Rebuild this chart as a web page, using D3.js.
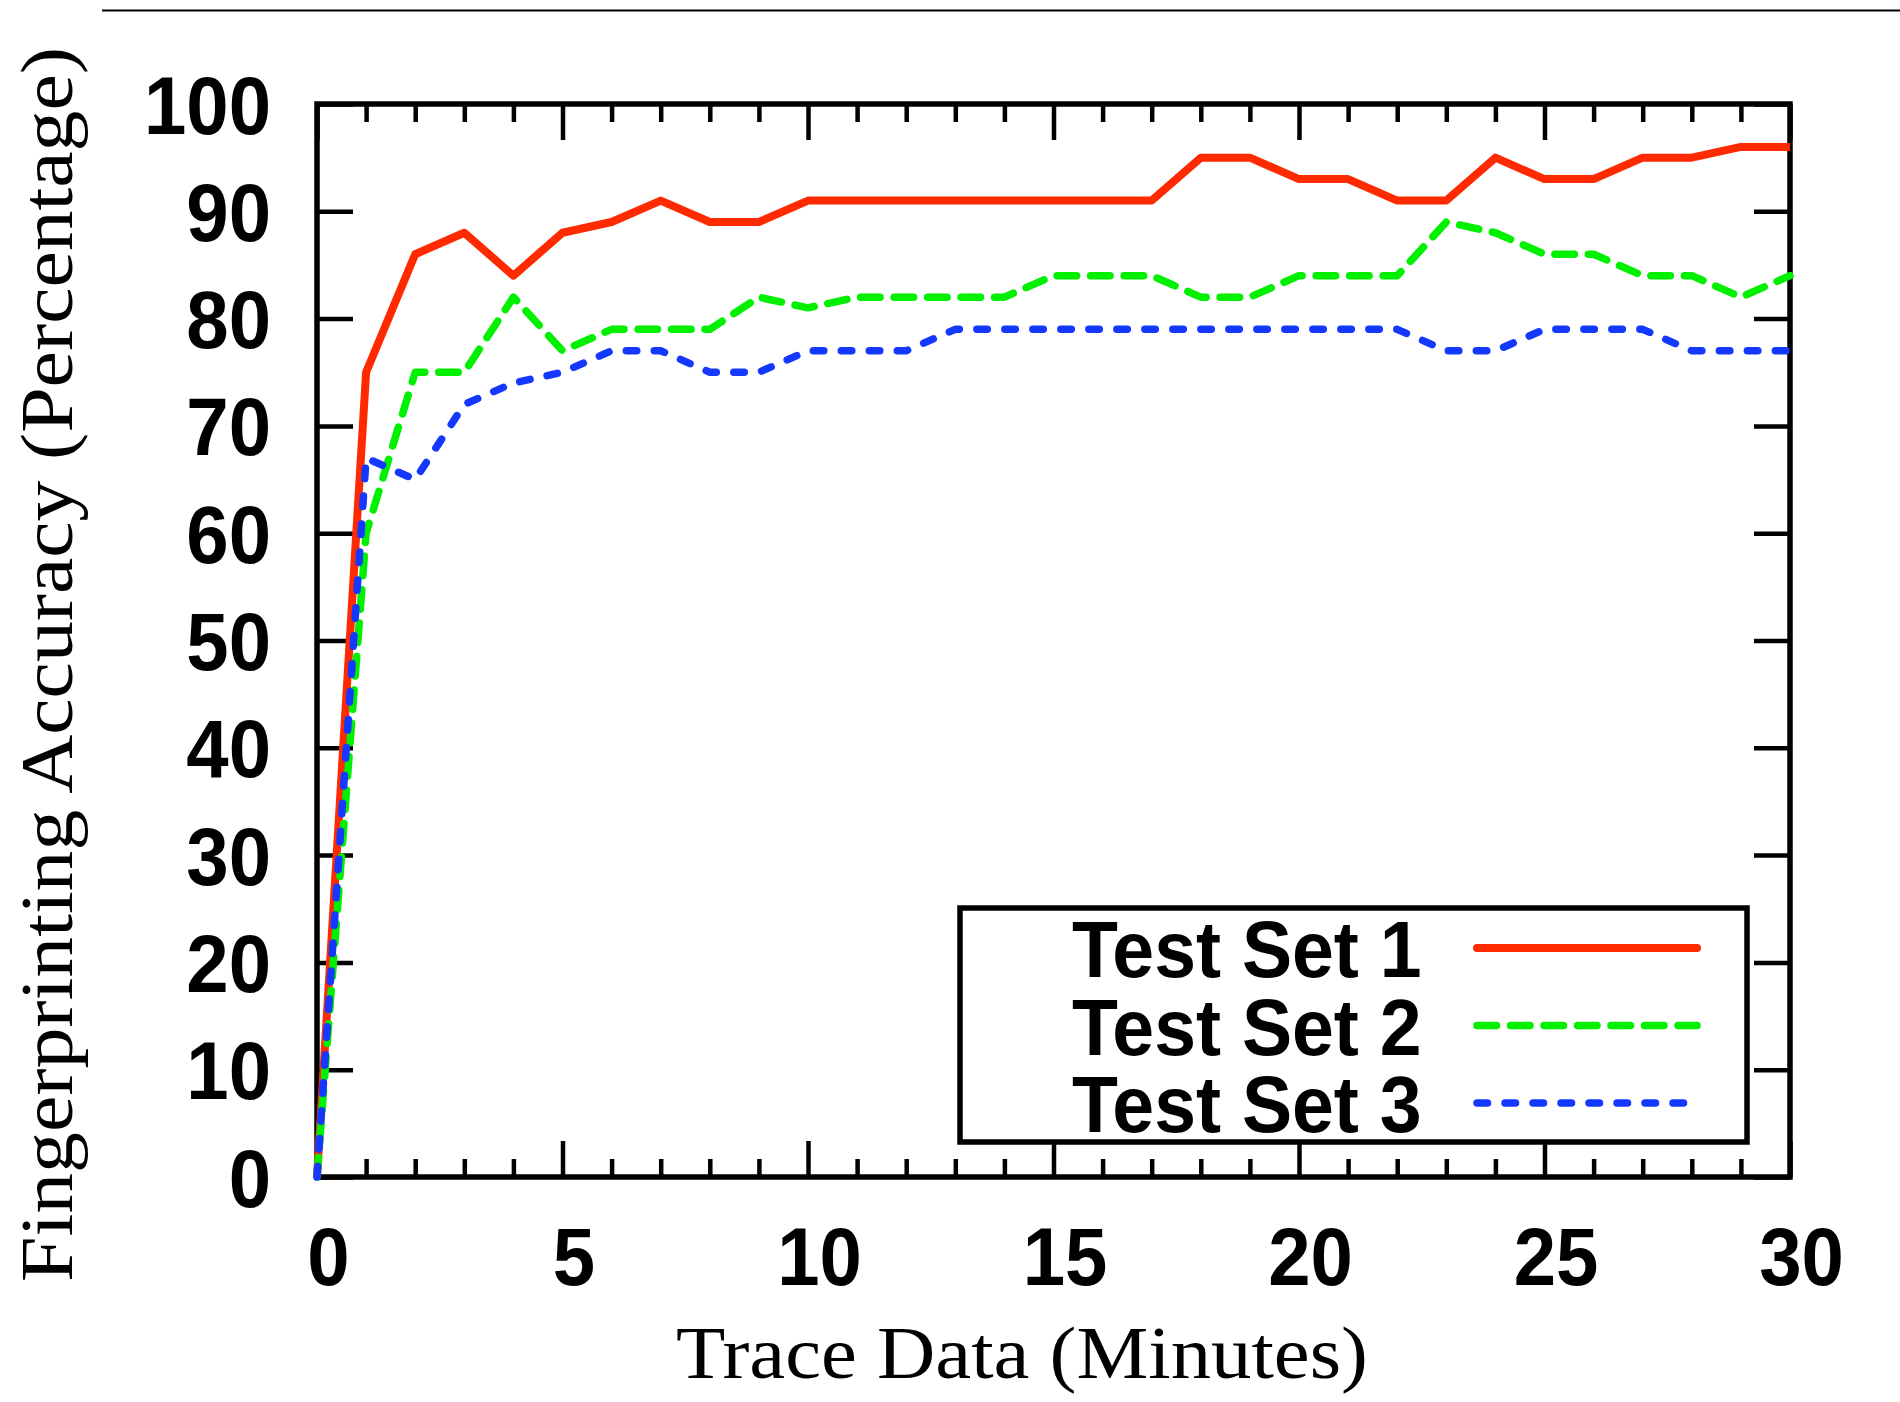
<!DOCTYPE html>
<html>
<head>
<meta charset="utf-8">
<script src="https://cdn.jsdelivr.net/npm/d3@7"></script>
<style>
  html, body { margin: 0; padding: 0; background: #fff; }
  svg { display: block; }
</style>
</head>
<body>
<div id="chart"></div>
<script>
// x values (minutes of trace data)
var minutes = [0, 1, 2, 3, 4, 5, 6, 7, 8, 9, 10, 11, 12, 13, 14, 15, 16, 17, 18, 19, 20, 21, 22, 23, 24, 25, 26, 27, 28, 29, 30];

// fingerprinting accuracy (%)
var testSet1 = [0, 75, 86, 88, 84, 88, 89, 91, 89, 89, 91, 91, 91, 91, 91, 91, 91, 91, 95, 95, 93, 93, 91, 91, 95, 93, 93, 95, 95, 96, 96];
var testSet2 = [0, 60, 75, 75, 82, 77, 79, 79, 79, 82, 81, 82, 82, 82, 82, 84, 84, 84, 82, 82, 84, 84, 84, 89, 88, 86, 86, 84, 84, 82, 84];
var testSet3 = [0, 67, 65, 72, 74, 75, 77, 77, 75, 75, 77, 77, 77, 79, 79, 79, 79, 79, 79, 79, 79, 79, 79, 77, 77, 79, 79, 79, 77, 77, 77];

var seriesNames = ["Test Set 1", "Test Set 2", "Test Set 3"];
var xTicks = [0, 5, 10, 15, 20, 25, 30];
var yTicks = [0, 10, 20, 30, 40, 50, 60, 70, 80, 90, 100];

var W = 1900, H = 1402;
var margin = { top: 104, right: 110, bottom: 225, left: 317 };
var plotW = W - margin.left - margin.right,
    plotH = H - margin.top - margin.bottom;

var colors = ["#ff2a00", "#00f000", "#1438ff"];
var dashes = [null, "19.5 14", "10.5 17.5"];
var widths = [8, 7.5, 7.5];
var bold = "'Liberation Sans', Arial, Helvetica, sans-serif";
var serif = "'Liberation Serif', 'Times New Roman', serif";
var squeeze = 0.94;

var svg = d3.select("#chart").append("svg")
    .attr("width", W)
    .attr("height", H);

// rule at the top of the page
svg.append("line")
    .attr("x1", 102).attr("x2", W)
    .attr("y1", 10.5).attr("y2", 10.5)
    .attr("stroke", "#000")
    .attr("stroke-width", 2);

var g = svg.append("g")
    .attr("transform", "translate(" + margin.left + "," + margin.top + ")");

var x = d3.scaleLinear().domain([0, 30]).range([0, plotW]);
var y = d3.scaleLinear().domain([0, 100]).range([plotH, 0]);

function isMajor(d) { return xTicks.indexOf(d) != -1; }

// bottom axis: minor ticks every minute, labels every 5
var xAxis = d3.axisBottom(x)
    .tickValues(minutes)
    .tickSizeOuter(0)
    .tickFormat(function (d) { return isMajor(d) ? d : ""; });

var gx = g.append("g")
    .attr("transform", "translate(0," + plotH + ")")
    .call(xAxis);
gx.select(".domain").remove();
gx.selectAll(".tick line")
    .attr("y2", function (d) { return isMajor(d) ? -36 : -18; })
    .attr("stroke", "#000")
    .attr("stroke-width", 4.5);
gx.selectAll(".tick text")
    .attr("y", null).attr("dy", null)
    .attr("transform", "translate(11,108) scale(" + squeeze + ",1)")
    .style("font-family", bold)
    .style("font-weight", "bold")
    .style("font-size", "81px")
    .attr("fill", "#000");

var gxTop = g.append("g")
    .call(d3.axisTop(x).tickValues(minutes).tickSizeOuter(0).tickFormat(""));
gxTop.select(".domain").remove();
gxTop.selectAll(".tick line")
    .attr("y2", function (d) { return isMajor(d) ? 36 : 18; })
    .attr("stroke", "#000")
    .attr("stroke-width", 4.5);

var yAxis = d3.axisLeft(y)
    .tickValues(yTicks)
    .tickSizeOuter(0);

var gy = g.append("g").call(yAxis);
gy.select(".domain").remove();
gy.selectAll(".tick line")
    .attr("x2", 36)
    .attr("stroke", "#000")
    .attr("stroke-width", 4.5);
gy.selectAll(".tick text")
    .attr("x", null).attr("dy", "0.358em")
    .attr("transform", "translate(-46,0) scale(" + squeeze + ",1)")
    .style("font-family", bold)
    .style("font-weight", "bold")
    .style("font-size", "81px")
    .attr("fill", "#000");

var gyRight = g.append("g")
    .attr("transform", "translate(" + plotW + ",0)")
    .call(d3.axisRight(y).tickValues(yTicks).tickSizeOuter(0).tickFormat(""));
gyRight.select(".domain").remove();
gyRight.selectAll(".tick line")
    .attr("x2", -36)
    .attr("stroke", "#000")
    .attr("stroke-width", 4.5);

// frame
g.append("rect")
    .attr("x", 0).attr("y", 0)
    .attr("width", plotW).attr("height", plotH)
    .attr("fill", "none")
    .attr("stroke", "#000")
    .attr("stroke-width", 5.5);

// legend box
var legX = 960 - margin.left, legY = 908 - margin.top;
g.append("rect")
    .attr("x", legX).attr("y", legY)
    .attr("width", 787).attr("height", 234)
    .attr("fill", "#fff")
    .attr("stroke", "#000")
    .attr("stroke-width", 5.5);

var series = [testSet1, testSet2, testSet3];

var line = d3.line()
    .x(function (d, i) { return x(minutes[i]); })
    .y(function (d) { return y(d); });

series.forEach(function (s, k) {
    g.append("path")
        .datum(s)
        .attr("d", line)
        .attr("fill", "none")
        .attr("stroke", colors[k])
        .attr("stroke-width", widths[k])
        .attr("stroke-dasharray", dashes[k])
        .attr("stroke-linecap", dashes[k] ? "round" : "butt")
        .attr("stroke-linejoin", "round");
});

// legend rows
var rows = g.selectAll(".legrow")
    .data(seriesNames)
    .enter().append("g")
    .attr("class", "legrow")
    .attr("transform", function (d, i) {
        return "translate(0," + (977 - margin.top + i * 77.5) + ")";
    });

rows.append("text")
    .attr("transform", "translate(" + (1072 - margin.left) + ",0) scale(" + squeeze + ",1)")
    .style("font-family", bold)
    .style("font-weight", "bold")
    .style("font-size", "80px")
    .attr("fill", "#000")
    .text(function (d) { return d; });

rows.append("line")
    .attr("x1", 1477 - margin.left).attr("x2", 1697 - margin.left)
    .attr("y1", -29).attr("y2", -29)
    .attr("stroke", function (d, i) { return colors[i]; })
    .attr("stroke-width", function (d, i) { return widths[i]; })
    .attr("stroke-dasharray", function (d, i) { return dashes[i]; })
    .attr("stroke-linecap", "round");

// axis titles
svg.append("text")
    .attr("x", 676).attr("y", 1378)
    .attr("textLength", 692)
    .attr("lengthAdjust", "spacingAndGlyphs")
    .style("font-family", serif)
    .style("font-size", "74px")
    .attr("fill", "#000")
    .text("Trace Data (Minutes)");

svg.append("text")
    .attr("transform", "translate(72,1282) rotate(-90)")
    .attr("textLength", 1235)
    .attr("lengthAdjust", "spacingAndGlyphs")
    .style("font-family", serif)
    .style("font-size", "74px")
    .attr("fill", "#000")
    .text("Fingerprinting Accuracy (Percentage)");
</script>
</body>
</html>
